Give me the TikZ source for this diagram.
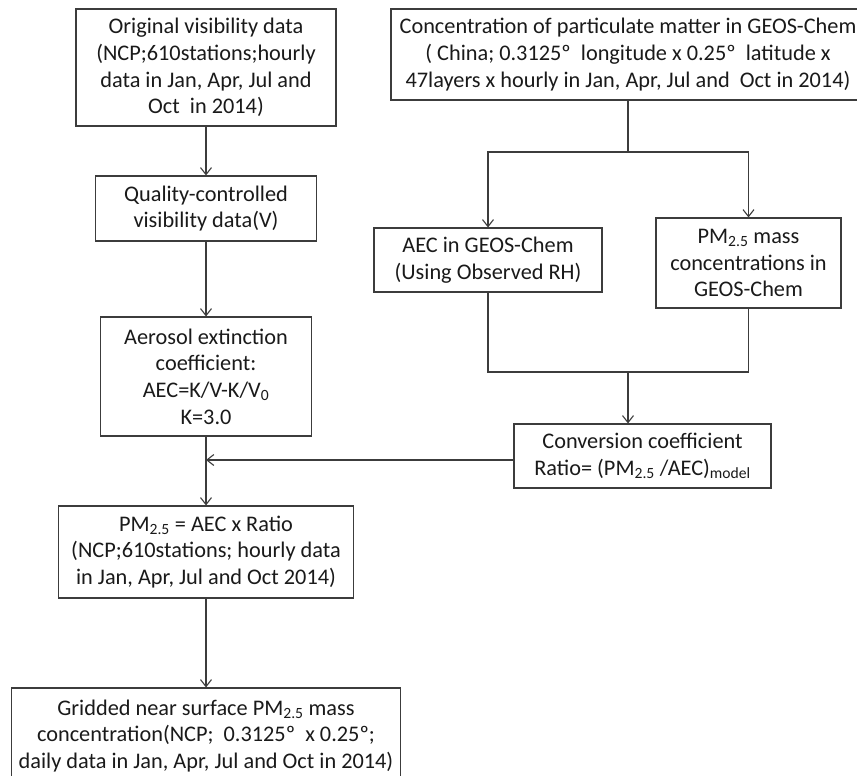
\documentclass[tikz,border=0pt]{standalone}
\usepackage{fontspec}
\setmainfont{Carlito}
\usetikzlibrary{arrows.meta}
\definecolor{linegray}{HTML}{3C3C3C}
\definecolor{txt}{HTML}{1A1A1A}
\newcommand{\sub}[1]{\textsubscript{#1}}
\begin{document}
\begin{tikzpicture}[x=1pt,y=-1pt,
  box/.style={draw=linegray,line width=1.1pt,align=center,inner sep=0pt,text=txt,
    font=\fontsize{22.3}{26.7}\selectfont},
  conn/.style={draw=linegray,line width=1.1pt},
  arr/.style={conn,-{Straight Barb[length=7pt,width=11pt,line width=1.1pt]}}]
\clip (0,0) rectangle (857,776);
\fill[white] (0,0) rectangle (857,776);

\node[box,minimum width=260pt,minimum height=117pt] (orig) at (206,67.5)
  {Original visibility data\\(NCP;610stations;hourly\\data in Jan, Apr, Jul and\\Oct\ \ in 2014)};
\node[box,minimum width=221pt,minimum height=65pt] (qc) at (206,208.5)
  {Quality-controlled\\visibility data(V)};
\node[box,minimum width=211pt,minimum height=119pt] (aer) at (206,376.5)
  {Aerosol extinction\\coefficient:\\AEC=K/V-K/V\sub{0}\\K=3.0};
\node[box,minimum width=295pt,minimum height=92pt] (pm) at (206,552)
  {PM\sub{2.5} = AEC x Ratio\\(NCP;610stations; hourly data\\in Jan, Apr, Jul and Oct 2014)};
\node[box,minimum width=389pt,minimum height=96pt] (grid) at (206,736)
  {Gridded near surface PM\sub{2.5} mass\\concentration(NCP;\ \ 0.3125º\ \ x 0.25º;\\daily data in Jan, Apr, Jul and Oct in 2014)};

\node[box,minimum width=474pt,minimum height=91pt] (conc) at (628,54.5)
  {Concentration of particulate matter in GEOS-Chem\\( China; 0.3125º\ \ longitude x 0.25º\ \ latitude x\\47layers x hourly in Jan, Apr, Jul and\ \ Oct in 2014)};
\node[box,minimum width=228pt,minimum height=64pt] (aec) at (488,260)
  {AEC in GEOS-Chem\\(Using Observed RH)};
\node[box,minimum width=185pt,minimum height=90pt] (pmm) at (748.5,263)
  {PM\sub{2.5} mass\\concentrations in\\GEOS-Chem};
\node[box,minimum width=257pt,minimum height=64pt] (conv) at (642.5,456)
  {Conversion coefficient\\Ratio= (PM\sub{2.5} /AEC)\sub{model}};

\coordinate (s1) at (628,152);
\coordinate (s2) at (628,372);
\coordinate (j) at (206,460);

\draw[arr] (orig.south) -- (qc.north);
\draw[arr] (qc.south) -- (aer.north);
\draw[arr] (aer.south) -- (pm.north);
\draw[arr] (pm.south) -- (grid.north);
\draw[conn] (conc.south) -- (s1);
\draw[arr] (s1) -| (aec.north);
\draw[arr] (s1) -| (pmm.north);
\draw[conn] (aec.south) |- (s2);
\draw[conn] (pmm.south) |- (s2);
\draw[arr] (s2) -- (s2 |- conv.north);
\draw[arr] (conv.west |- j) -- (j);
\end{tikzpicture}
\end{document}
